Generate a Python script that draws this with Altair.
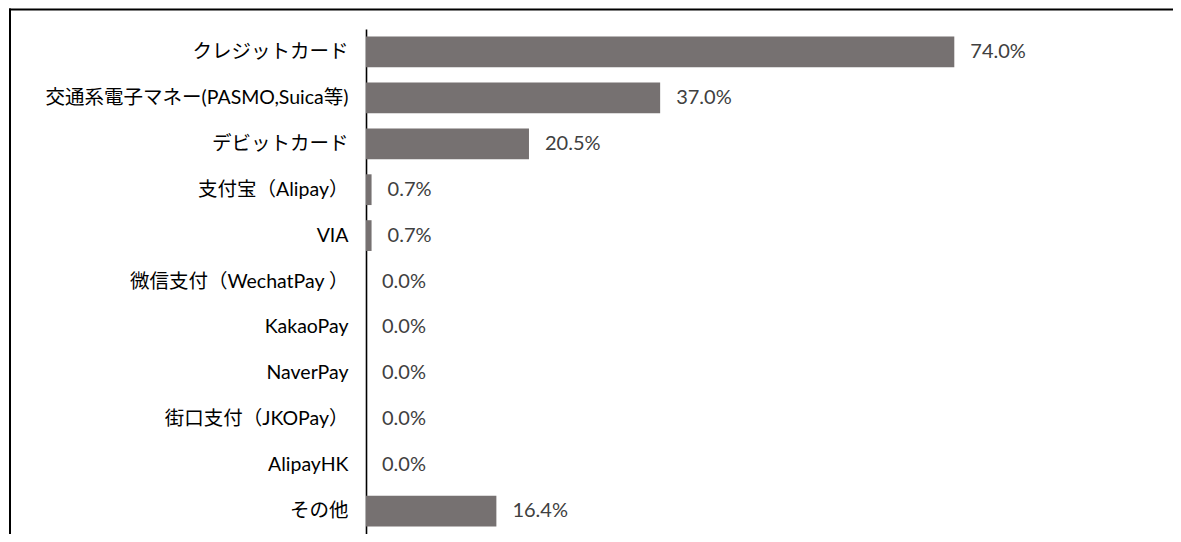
import altair as alt
import pandas as pd

categories = [
    "クレジットカード",
    "交通系電子マネー(PASMO,Suica等)",
    "デビットカード",
    "支付宝（Alipay）",
    "VIA",
    "微信支付（WechatPay ）",
    "KakaoPay",
    "NaverPay",
    "街口支付（JKOPay）",
    "AlipayHK",
    "その他",
]
values = [74.0, 37.0, 20.5, 0.7, 0.7, 0.0, 0.0, 0.0, 0.0, 0.0, 16.4]

df = pd.DataFrame({"cat": categories, "v": values})

FONT = "Lato, Noto Sans CJK JP, sans-serif"

y_enc = alt.Y(
    "cat:N",
    sort=None,
    scale=alt.Scale(paddingInner=0.33, paddingOuter=0.165),
    axis=alt.Axis(
        title=None,
        ticks=False,
        domain=True,
        domainColor="black",
        domainWidth=1.6,
        labelFont=FONT,
        labelFontSize=19.5,
        labelColor="black",
        labelPadding=18,
        labelLimit=400,
        grid=False,
    ),
)
x_enc = alt.X("v:Q", scale=alt.Scale(domain=[0, 80]), axis=None)

base = alt.Chart(df)

bars = base.mark_bar(color="#767171").encode(y=y_enc, x=x_enc)

labels = base.transform_calculate(
    lbl="format(datum.v, '.1f') + '%'"
).mark_text(
    align="left", baseline="middle", dx=16, font=FONT, fontSize=20, color="#404040"
).encode(y=alt.Y("cat:N", sort=None), x=x_enc, text="lbl:N")

frame = pd.DataFrame({"a": [0]})
top_line = alt.Chart(frame).mark_rule(color="black", strokeWidth=2).encode(
    x=alt.value(-357), x2=alt.value(1000), y=alt.value(-19.5)
)
left_line = alt.Chart(frame).mark_rule(color="black", strokeWidth=2).encode(
    x=alt.value(-356), y=alt.value(-20.5), y2=alt.value(700)
)

chart = alt.layer(bars, labels, top_line, left_line).properties(
    width=636,
    height=505,
    autosize=alt.AutoSizeParams(type="none"),
    padding={"left": 358, "top": 21, "right": 171, "bottom": 0},
).configure_view(stroke=None)

chart.save("out.html", embed_options={"renderer": "svg", "actions": False})
